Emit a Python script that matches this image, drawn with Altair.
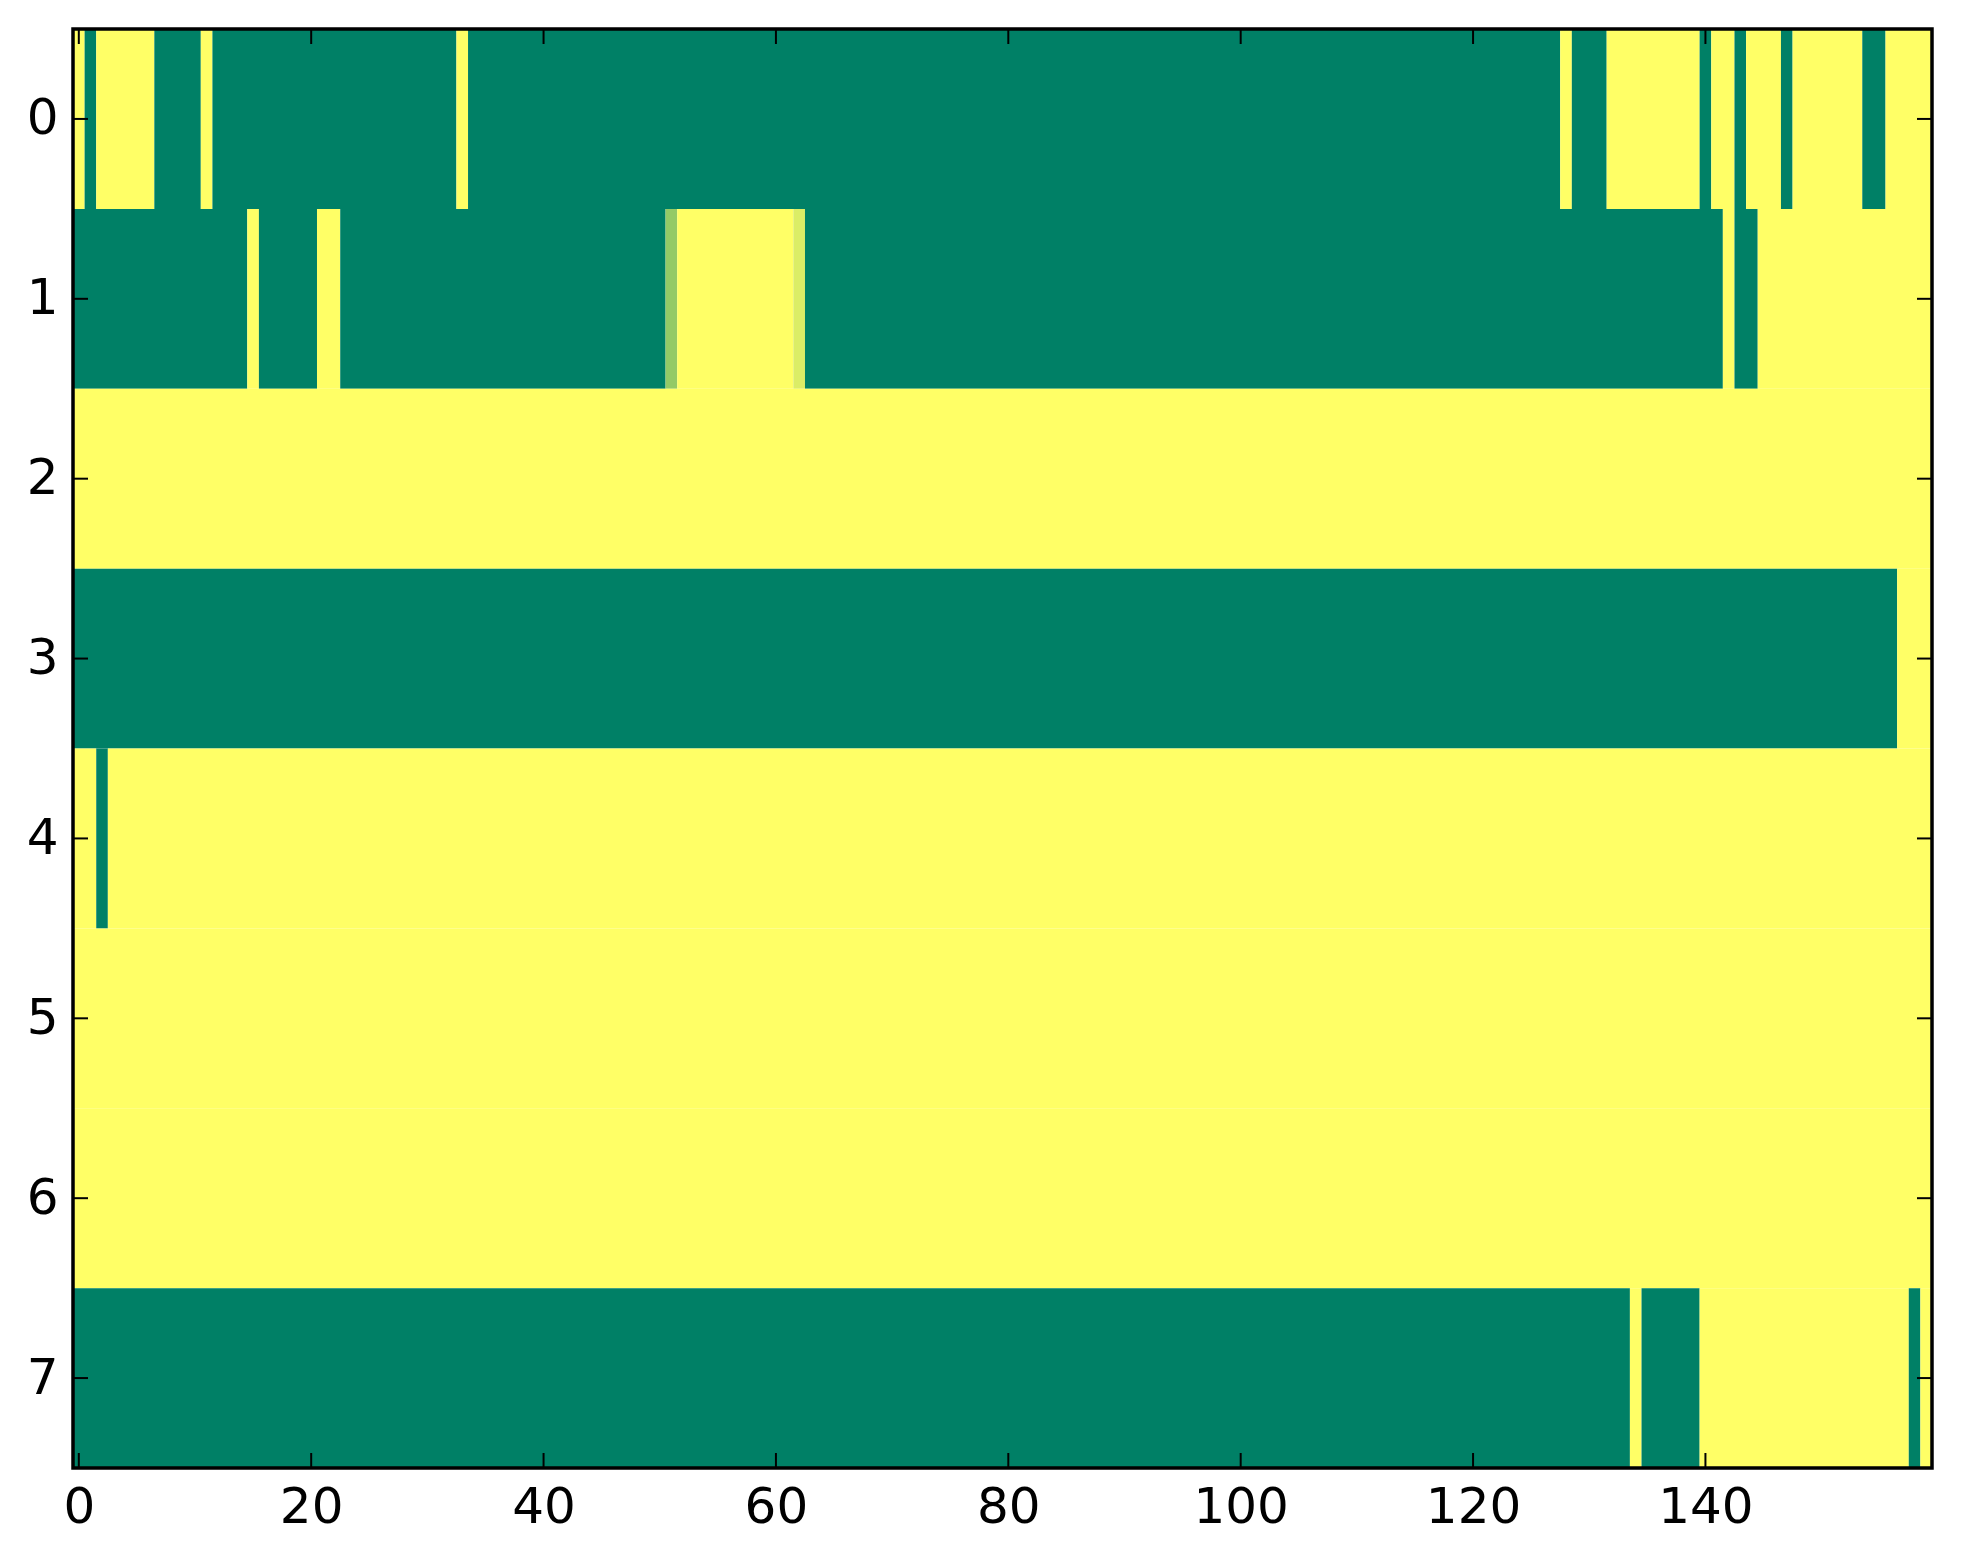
import altair as alt
import pandas as pd

# Run-length rows: (first column, last column, value) ; value 0 = green, 1 = yellow
row0 = [(0, 0, 1), (1, 1, 0), (2, 6, 1), (7, 10, 0), (11, 11, 1), (12, 32, 0), (33, 33, 1),
        (34, 127, 0), (128, 128, 1), (129, 131, 0), (132, 139, 1), (140, 140, 0), (141, 142, 1),
        (143, 143, 0), (144, 146, 1), (147, 147, 0), (148, 153, 1), (154, 155, 0), (156, 159, 1)]
row1 = [(0, 14, 0), (15, 15, 1), (16, 20, 0), (21, 22, 1), (23, 50, 0), (51, 51, 0.58),
        (52, 61, 1), (62, 62, 0.86), (63, 141, 0), (142, 142, 1), (143, 144, 0), (145, 159, 1)]
row2 = [(0, 159, 1)]
row3 = [(0, 156, 0), (157, 159, 1)]
row4 = [(0, 1, 1), (2, 2, 0), (3, 159, 1)]
row5 = [(0, 159, 1)]
row6 = [(0, 159, 1)]
row7 = [(0, 133, 0), (134, 134, 1), (135, 139, 0), (140, 157, 1), (158, 158, 0), (159, 159, 1)]
rows = [row0, row1, row2, row3, row4, row5, row6, row7]

x_ticks = [0, 20, 40, 60, 80, 100, 120, 140]
y_ticks = [0, 1, 2, 3, 4, 5, 6, 7]

W, H = 1859, 1439
TICK = 15
FONT = "DejaVu Sans"
FS = 50

records = []
for r, segs in enumerate(rows):
    for s, e, v in segs:
        records.append({"row": r, "start": s, "end": e, "v": v})
cells = pd.DataFrame(records)

xscale = alt.Scale(domain=[-0.5, 159.5], nice=False, zero=False)
yscale = alt.Scale(domain=[-0.5, 7.5], nice=False, zero=False, reverse=True)

xaxis = alt.Axis(values=x_ticks, format="d", title=None, ticks=False, domain=False,
                 grid=False, labelFont=FONT, labelFontSize=FS, labelColor="black",
                 labelPadding=14, labelFlush=False)
yaxis = alt.Axis(values=y_ticks, format="d", title=None, ticks=False, domain=False,
                 grid=False, labelFont=FONT, labelFontSize=FS, labelColor="black",
                 labelPadding=15, labelFlush=False)

rects = alt.Chart(cells).transform_calculate(
    x0="datum.start - 0.5", x1="datum.end + 0.5",
    y0="datum.row - 0.5", y1="datum.row + 0.5",
).mark_rect(strokeWidth=0).encode(
    x=alt.X("x0:Q", scale=xscale, axis=xaxis),
    x2="x1:Q",
    y=alt.Y("y0:Q", scale=yscale, axis=yaxis),
    y2="y1:Q",
    color=alt.Color("v:Q", scale=alt.Scale(domain=[0, 1], range=["#008066", "#ffff66"],
                                           interpolate="rgb"), legend=None),
)

xt = pd.DataFrame({"t": x_ticks})
yt = pd.DataFrame({"t": y_ticks})

xb = alt.Chart(xt).mark_rule(color="black", strokeWidth=2).encode(
    x=alt.X("t:Q", scale=xscale, axis=xaxis), y=alt.value(H - TICK), y2=alt.value(H))
xtop = alt.Chart(xt).mark_rule(color="black", strokeWidth=2).encode(
    x=alt.X("t:Q", scale=xscale, axis=xaxis), y=alt.value(0), y2=alt.value(TICK))
yl = alt.Chart(yt).mark_rule(color="black", strokeWidth=2).encode(
    y=alt.Y("t:Q", scale=yscale, axis=yaxis), x=alt.value(0), x2=alt.value(TICK))
yr = alt.Chart(yt).mark_rule(color="black", strokeWidth=2).encode(
    y=alt.Y("t:Q", scale=yscale, axis=yaxis), x=alt.value(W - TICK), x2=alt.value(W))

frame = alt.Chart(pd.DataFrame({"a": [0]})).mark_rect(
    filled=False, stroke="black", strokeWidth=3.5).encode(
    x=alt.value(0), x2=alt.value(W), y=alt.value(0), y2=alt.value(H))

chart = alt.layer(rects, xb, xtop, yl, yr, frame).properties(
    width=W, height=H,
    autosize=alt.AutoSizeParams(type="none"),
    padding={"left": 65, "top": 21, "right": 20, "bottom": 80},
).configure_view(stroke=None).configure(background="white")

chart.save("out.html", embed_options={"renderer": "svg", "actions": False})
